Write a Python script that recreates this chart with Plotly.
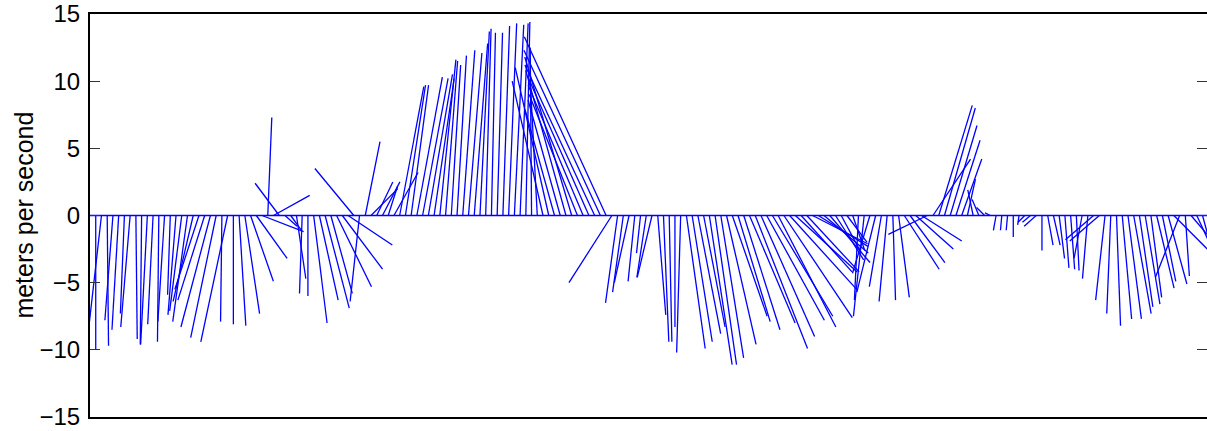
import plotly.graph_objects as go

# Feather (stick) plot: one wind vector per time step, components in m/s
u = [0.0, -1.1, 0.1, -0.6, -0.5, -0.3, -0.7, 0.1, -0.1, -0.5,
     -0.4, -0.1, -0.5, -0.2, -0.6, -0.9, -1.1, -1.5, -1.8, -2.0,
     -2.2, -1.9, -0.1, -2.0, 0.0, 0.5, 1.1, 1.7, 2.3, 3.1,
     0.3, 2.7, -1.8, 0.9, 0.8, 0.7, -0.2, 0.0, 1.0, 1.4,
     1.8, 1.6, 2.6, 3.0, 3.3, -2.9, -0.7, 1.1, 2.0, 1.2,
     1.3, 0.7, 1.8, 1.8, 1.5, 1.3, 1.9, 1.9, 1.8, 1.5,
     1.2, 0.9, 0.7, 0.7, 0.9, 1.0, 1.0, 0.7, 0.4, 0.3,
     0.4, 0.5, 0.6, 0.7, 0.6, 0.3, -0.1, -0.5, -2.3, -2.5,
     -2.2, -2.4, -3.0, -3.5, -3.6, -4.1, -4.5, -5.2, -5.7, -6.1,
     -3.2, -0.9, -0.8, -1.1, -0.5, -0.3, -0.7, -1.1, 0.6, 0.4,
     0.2, 0.0, -0.3, 1.4, 1.5, 1.7, 1.6, 1.7, 1.6, 1.7,
     2.2, 2.6, 2.4, 2.7, 3.4, 3.9, 4.0, 4.3, 4.5, 4.3,
     5.1, 5.0, 4.6, 3.8, 3.9, 4.1, 3.7, 3.3, 3.0, 2.1,
     1.5, 1.5, 0.9, -0.3, -0.8, -1.3, -1.4, -0.9, -0.6, 0.2,
     0.8, 2.6, 2.6, 2.8, 3.0, -2.9, 2.8, 2.5, 2.3, 2.0,
     1.8, 1.5, 0.6, -0.4, -0.5, -0.6, -0.4, -0.2, -0.1, -0.1,
     0.0, -0.1, -0.5, -0.6, -0.9, 0.0, 0.4, 0.5, 0.4, 0.3,
     0.3, 0.2, -0.6, -0.4, -2.1, -2.2, -0.7, -0.3, 0.3, 0.7,
     1.0, 1.3, 1.0, 1.1, 0.8, 1.3, 1.0, 1.4, 2.9, -1.8,
     0.3, 1.7, 1.2, 0.6]

v = [-10.0, -9.7, -9.7, -7.8, -8.5, -7.3, -8.3, -9.2, -9.6, -9.6,
     -8.1, -9.4, -7.9, -5.9, -7.4, -7.1, -7.9, -6.4, -5.5, -6.3,
     -8.3, -9.1, -7.9, -9.4, -8.1, -8.2, -7.3, -4.9, -3.2, -1.2,
     7.3, 1.5, 2.4, -0.8, -1.1, -4.7, -5.8, -6.0, -8.0, -6.3,
     -6.9, -5.8, -5.3, -4.0, -2.2, 3.5, -6.4, 5.5, 2.0, 2.5,
     2.5, 2.2, 3.2, 9.6, 9.7, 9.7, 10.3, 10.2, 10.5, 10.2,
     11.6, 11.5, 11.2, 11.9, 12.3, 12.1, 12.8, 13.7, 13.9, 13.6,
     13.6, 14.1, 14.3, 14.2, 14.3, 14.4, 12.5, 9.5, 10.0, 11.0,
     7.9, 8.6, 10.8, 11.8, 9.0, 9.7, 10.2, 11.2, 12.3, 13.3,
     -5.0, -6.5, -5.7, -5.0, -4.9, -2.8, -4.6, -4.6, -7.4, -9.4,
     -9.4, -8.3, -10.2, -9.9, -9.4, -8.8, -8.3, -11.1, -11.1, -10.6,
     -9.6, -7.5, -7.9, -8.5, -8.0, -9.9, -9.0, -7.8, -7.5, -8.3,
     -7.6, -5.5, -4.2, -4.2, -4.2, -2.1, -2.3, -2.8, -3.5, -3.3,
     -2.8, -2.0, -2.6, -6.3, -7.5, -4.3, -5.7, -5.3, -6.4, -6.3,
     -6.1, -4.0, -3.5, -2.5, -1.9, -1.4, 4.2, 8.2, 8.0, 6.7,
     5.6, 4.2, 2.7, 1.9, 1.2, 0.6, 0.2, -1.1, -1.1, -1.1,
     -1.6, -0.7, -0.5, -0.5, -0.8, -2.6, -2.2, -2.2, -3.2, -3.9,
     -4.0, -4.1, -3.2, -4.7, -1.8, -1.9, -6.3, -7.3, -8.2, -7.7,
     -7.7, -7.3, -6.8, -6.6, -6.1, -5.4, -4.9, -5.1, -2.9, -4.6,
     -4.5, -2.0, -2.6, -2.2]

y_ticks = [-15, -10, -5, 0, 5, 10, 15]
y_label = "meters per second"

assert len(u) == len(v)

# the figure is slightly wider than the window, so the right frame edge
# falls just outside the picture, as in the original
W, H = 1209, 431
ML, MR, MT, MB = 90, 0, 14, 14
Y_RANGE = [-15, 15]
X_RANGE = [0, 194.78]

plot_w = W - ML - MR
plot_h = H - MT - MB
# keep vector directions true on screen: u drawn with the same pixel scale as v
k = (plot_h / (Y_RANGE[1] - Y_RANGE[0])) / (plot_w / (X_RANGE[1] - X_RANGE[0]))

xs, ys = [], []
for i, (uu, vv) in enumerate(zip(u, v), start=1):
    xs += [i, i + uu * k, None]
    ys += [0, vv, None]

BLUE = "#0000ff"
fig = go.Figure()
fig.add_trace(go.Scatter(x=xs, y=ys, mode="lines",
                         line=dict(color=BLUE, width=1.3), hoverinfo="skip",
                         showlegend=False))
fig.add_trace(go.Scatter(x=X_RANGE, y=[0, 0], mode="lines",
                         line=dict(color=BLUE, width=1.3), hoverinfo="skip",
                         showlegend=False))

FONT = "Liberation Sans, Arial, Helvetica, sans-serif"
fig.update_layout(
    width=W, height=H,
    margin=dict(l=ML, r=MR, t=MT, b=MB, pad=0),
    paper_bgcolor="white", plot_bgcolor="white",
    font=dict(family=FONT, size=24, color="black"),
    xaxis=dict(range=X_RANGE, showticklabels=False, ticks="",
               showgrid=False, zeroline=False, showline=True, mirror=True,
               linecolor="black", linewidth=2),
    yaxis=dict(range=Y_RANGE, tickvals=y_ticks, ticks="inside", ticklen=10,
               tickwidth=1.2, tickcolor="#333333", showgrid=False,
               zeroline=False, showline=True, mirror="ticks",
               linecolor="black", linewidth=2, ticklabelstandoff=3,
               tickfont=dict(family=FONT, size=24, color="black")),
    annotations=[dict(text=y_label, textangle=-90, showarrow=False,
                      xref="paper", yref="paper", x=(23 - ML) / plot_w,
                      y=0.5, xanchor="center", yanchor="middle",
                      font=dict(family=FONT, size=25, color="black"))],
)

fig.write_html(
    "out.html",
    config={"displayModeBar": False, "staticPlot": True},
    post_script="document.body.style.margin='0';document.body.style.overflow='hidden';",
)
